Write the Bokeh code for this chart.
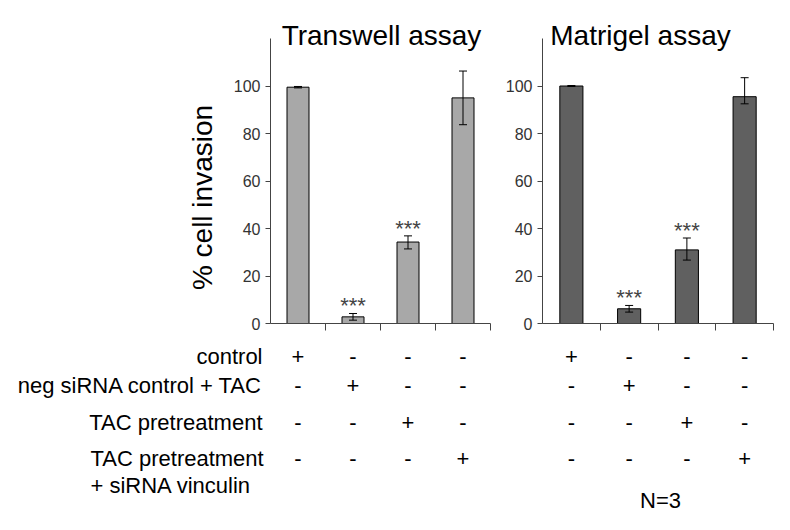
import numpy as np
from bokeh.plotting import figure
from bokeh.models import ColumnDataSource, Whisker, TeeHead, FixedTicker, Range1d
from bokeh.layouts import row
from bokeh.embed import file_html
from bokeh.resources import INLINE
from bokeh.core.properties import value

# ---------------- data ----------------
row_labels = ["control", "neg siRNA control + TAC", "TAC pretreatment",
              "TAC pretreatment\n+ siRNA vinculin"]
signs = [["+", "-", "-", "-"],
         ["-", "+", "-", "-"],
         ["-", "-", "+", "-"],
         ["-", "-", "-", "+"]]
transwell_mean = [99.5, 2.8, 34.3, 95.0]
transwell_err_up = [0.3, 1.4, 2.6, 11.3]
transwell_err_down = [0.3, 1.4, 2.9, 11.3]
matrigel_mean = [100.0, 6.2, 31.0, 95.5]
matrigel_err_up = [0.2, 1.4, 5.0, 8.0]
matrigel_err_down = [0.2, 1.4, 4.3, 3.0]
significance = ["", "***", "***", ""]
y_ticks = [0, 20, 40, 60, 80, 100]
titles = ["Transwell assay", "Matrigel assay"]
y_label = "% cell invasion"
n_note = "N=3"

# ---------------- layout constants (pixels) ----------------
FONT = "Liberation Sans"
H = 514
YMAX = 120
AX_TOP = 38      # pixel y of y = 120
AX_BASE = 323    # pixel y of y = 0
UNIT = (AX_BASE - AX_TOP) / YMAX


def ydata(py):
    return (AX_BASE - py) / UNIT


row_py = [356, 385, 422, 458]
second_line_py = 485


def make_panel(width, fig_left, ax_left, ax_right, means, eup, edown,
               color, title, title_cx):
    """fig_left: pixel x of figure's left edge; ax_left/ax_right: pixel x of x=0/x=4."""
    pxu = (ax_right - ax_left) / 4.0

    def xdata(px):
        return (px - ax_left) / pxu

    p = figure(width=width, height=H, output_backend="svg", toolbar_location=None,
               x_range=Range1d(xdata(fig_left), xdata(fig_left + width)),
               y_range=Range1d(ydata(H), ydata(0)),
               min_border=0, min_border_left=0, min_border_right=0,
               min_border_top=0, min_border_bottom=0)
    p.outline_line_color = None
    p.xgrid.visible = False
    p.ygrid.visible = False
    p.background_fill_color = "white"
    p.border_fill_color = "white"

    xs = [i + 0.5 for i in range(len(means))]
    src = ColumnDataSource(dict(
        x=xs, top=means,
        upper=[m + u for m, u in zip(means, eup)],
        lower=[m - d for m, d in zip(means, edown)],
        sig=significance,
        sig_y=[m + u + 3.3 for m, u in zip(means, eup)],
    ))
    p.vbar(x="x", top="top", width=0.4, bottom=0, source=src,
           fill_color=color, line_color="black", line_width=1)
    p.add_layout(Whisker(source=src, base="x", upper="upper", lower="lower",
                         line_color="black", line_width=1, level="annotation",
                         upper_head=TeeHead(size=8, line_color="black", line_width=1),
                         lower_head=TeeHead(size=8, line_color="black", line_width=1)))
    p.text(x="x", y="sig_y", text="sig", source=src,
           text_font=value(FONT), text_font_size="22px", text_color="#444444",
           text_align="center", text_baseline="alphabetic")

    # axes fixed at data origin
    p.yaxis.fixed_location = 0
    p.yaxis.bounds = (0, YMAX)
    p.yaxis.ticker = FixedTicker(ticks=y_ticks)
    p.yaxis.major_label_text_font = FONT
    p.yaxis.major_label_text_font_size = "16px"
    p.yaxis.major_label_text_color = "#333333"
    p.yaxis.major_tick_out = 5
    p.yaxis.major_tick_in = 0
    p.yaxis.minor_tick_line_color = None
    p.yaxis.axis_line_color = "#444444"
    p.yaxis.major_tick_line_color = "#444444"

    p.xaxis.fixed_location = 0
    p.xaxis.bounds = (0, 4)
    p.xaxis.ticker = FixedTicker(ticks=[1, 2, 3, 4])
    p.xaxis.major_label_overrides = {1: "", 2: "", 3: "", 4: ""}
    p.xaxis.major_tick_out = 7
    p.xaxis.major_tick_in = 0
    p.xaxis.minor_tick_line_color = None
    p.xaxis.axis_line_color = "#444444"
    p.xaxis.major_tick_line_color = "#444444"

    # title
    p.text(x=[xdata(title_cx)], y=[ydata(35)], text=[title],
           text_font=value(FONT), text_font_size="28px", text_color="black",
           text_align="center", text_baseline="alphabetic")

    # +/- table
    tx, ty, tt = [], [], []
    for r, srow in enumerate(signs):
        for c, s in enumerate(srow):
            tx.append(xs[c])
            ty.append(ydata(row_py[r]))
            tt.append(s)
    p.text(x=tx, y=ty, text=tt, text_font=value(FONT), text_font_size="22px",
           text_color="black", text_align="center", text_baseline="middle")
    return p, xdata


LEFT_W = 500
RIGHT_W = 274
p1, xl = make_panel(LEFT_W, 0, 270, 490, transwell_mean, transwell_err_up,
                    transwell_err_down, "#a8a8a8", titles[0], 381)
p2, xr = make_panel(RIGHT_W, LEFT_W, 542, 773, matrigel_mean, matrigel_err_up,
                    matrigel_err_down, "#606060", titles[1], 640)

# y-axis label
p1.text(x=[xl(202)], y=[ydata(197)], text=[y_label], angle=np.pi / 2,
        text_font=value(FONT), text_font_size="28px", text_color="black",
        text_align="center", text_baseline="middle")

# row labels
rx, ry, rt, ra = [], [], [], []
for r, lab in enumerate(row_labels):
    lines = lab.split("\n")
    if len(lines) == 1:
        rx.append(xl(262)); ry.append(ydata(row_py[r])); rt.append(lines[0]); ra.append("right")
    else:
        for k, ln in enumerate(lines):
            rx.append(xl(90))
            ry.append(ydata(row_py[r] if k == 0 else second_line_py))
            rt.append(ln)
            ra.append("left")
p1.text(x=rx, y=ry, text=rt, text_align=ra, text_font=value(FONT),
        text_font_size="22px", text_color="black", text_baseline="middle")

p2.text(x=[xr(660)], y=[ydata(500)], text=[n_note], text_font=value(FONT),
        text_font_size="22px", text_color="black", text_align="center",
        text_baseline="middle")

layout = row(p1, p2, spacing=0)
open("out.html", "w").write(file_html(layout, INLINE))
